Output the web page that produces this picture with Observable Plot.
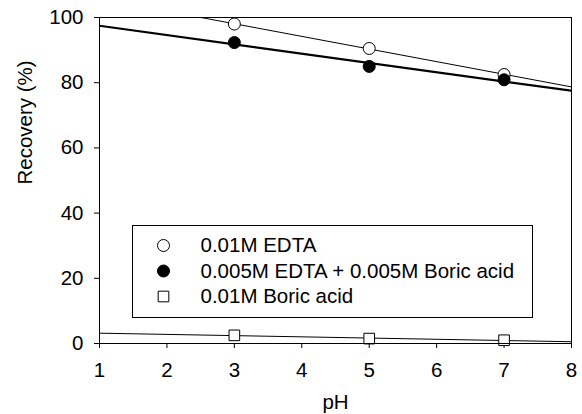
<!DOCTYPE html>
<html>
<head>
<meta charset="utf-8">
<script src="https://cdn.jsdelivr.net/npm/d3@7"></script>
<script src="https://cdn.jsdelivr.net/npm/@observablehq/plot@0.6"></script>
<style>
html,body{margin:0;padding:0;background:#fff;}
</style>
</head>
<body>
<div id="chart"></div>
<script>
// Data
const pH = [3, 5, 7];
const edta = [98, 90.5, 82.5];
const mixed = [92.3, 85, 80.9];
const boric = [2.5, 1.5, 1];
const seriesNames = ["0.01M EDTA", "0.005M EDTA + 0.005M Boric acid", "0.01M Boric acid"];
const xTicks = [1, 2, 3, 4, 5, 6, 7, 8];
const yTicks = [0, 20, 40, 60, 80, 100];

const seriesStyle = [
  {fill: "white", symbol: "circle", lineWidth: 1},
  {fill: "black", symbol: "circle", lineWidth: 2.2},
  {fill: "white", symbol: "square", lineWidth: 1}
];
const seriesValues = [edta, mixed, boric];

// least squares fit, evaluated at the axis ends
function fit(xs, ys) {
  const mx = d3.mean(xs), my = d3.mean(ys);
  const b = d3.sum(xs, (x, i) => (x - mx) * (ys[i] - my)) / d3.sum(xs, x => (x - mx) ** 2);
  return x => my + b * (x - mx);
}
const xEnds = d3.extent(xTicks);

const marks = [];
seriesValues.forEach((vals, s) => {
  const f = fit(pH, vals);
  const lineData = xEnds.map(x => ({x, y: f(x)}));
  marks.push(Plot.line(lineData, {x: "x", y: "y", stroke: "black", strokeWidth: seriesStyle[s].lineWidth, clip: true}));
});
seriesValues.forEach((vals, s) => {
  const pts = pH.map((x, i) => ({x, y: vals[i]}));
  marks.push(Plot.dot(pts, {x: "x", y: "y", r: 6, symbol: seriesStyle[s].symbol, fill: seriesStyle[s].fill, stroke: "black", strokeWidth: 1}));
});
marks.push(Plot.frame({stroke: "black"}));
// legend box inside the plot area
marks.push(Plot.frame({stroke: "black", fill: "white", insetLeft: 33, insetTop: 208, insetRight: 39, insetBottom: 26}));
seriesNames.forEach((name, s) => {
  marks.push(Plot.dot([name], {frameAnchor: "top-left", dx: 64, dy: 228 + s * 25.5, r: 6, symbol: seriesStyle[s].symbol, fill: seriesStyle[s].fill, stroke: "black", strokeWidth: 1}));
  marks.push(Plot.text([name], {frameAnchor: "top-left", dx: 101, dy: 228 + s * 25.5, text: d => d, textAnchor: "start", lineAnchor: "middle", fontSize: 20.5}));
});
marks.push(Plot.text(["pH"], {frameAnchor: "bottom", dy: 59, text: d => d, lineAnchor: "middle", fontSize: 20.5}));
marks.push(Plot.text(["Recovery (%)"], {frameAnchor: "left", dx: -74, dy: 4, rotate: -90, text: d => d, lineAnchor: "middle", fontSize: 20.5}));

const chart = Plot.plot({
  width: 582,
  height: 414,
  marginLeft: 99,
  marginTop: 17,
  marginRight: 11,
  marginBottom: 71,
  style: {fontFamily: "'Liberation Sans', Arial, sans-serif", fontSize: "20.5px", color: "black", background: "white", overflow: "visible"},
  x: {domain: xEnds, ticks: xTicks, tickSize: 5, tickPadding: 14, label: null, tickFormat: d => d},
  y: {domain: [0, 100], ticks: yTicks, tickSize: 5, tickPadding: 11, label: null},
  marks
});
document.getElementById("chart").appendChild(chart);
</script>
</body>
</html>
